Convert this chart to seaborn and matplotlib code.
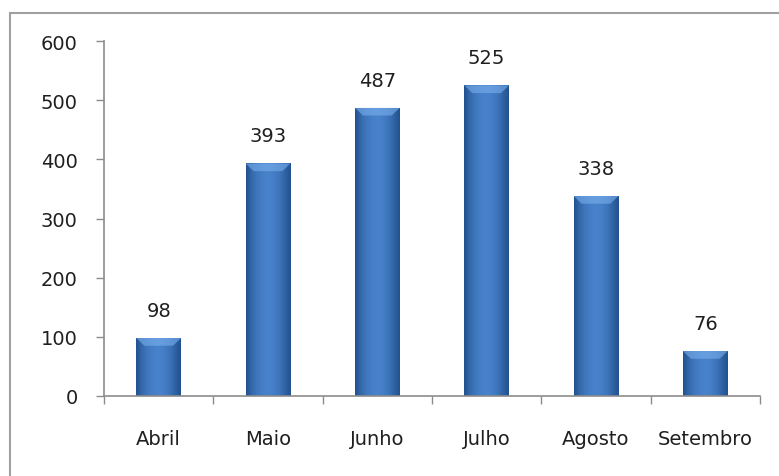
import numpy as np
import pandas as pd
import matplotlib
matplotlib.use("Agg")
import matplotlib.pyplot as plt
import seaborn as sns
from matplotlib.patches import Rectangle
from matplotlib.colors import LinearSegmentedColormap

meses = ["Abril", "Maio", "Junho", "Julho", "Agosto", "Setembro"]
valores = [98, 393, 487, 525, 338, 76]
yticks = [0, 100, 200, 300, 400, 500, 600]

df = pd.DataFrame({"mes": meses, "valor": valores})

sns.set_theme(style="white")
plt.rcParams["font.family"] = ["DejaVu Sans"]

fig = plt.figure(figsize=(7.79, 4.77), dpi=100)
ax = fig.add_axes([104/779, 1-397/477, (760-104)/779, (397-42)/477])

sns.barplot(data=df, x="mes", y="valor", color="#3b74c0", width=0.41,
            saturation=1, ax=ax, edgecolor="none")

# gradient shading on bars
grad = np.array([0.0, 0.4, 0.65, 0.8, 0.85, 0.78, 0.6, 0.3, 0.0])
cmap = LinearSegmentedColormap.from_list("b", ["#22528f", "#4f8bd6"])
xs = np.linspace(0, 1, 60)
prof = np.interp(xs, np.linspace(0, 1, len(grad)), grad)
for p in ax.patches:
    x0, y0 = p.get_x(), p.get_y()
    w, h = p.get_width(), p.get_height()
    img = ax.imshow(prof[None, :], cmap=cmap, vmin=0, vmax=1, aspect="auto",
                    extent=[x0, x0 + w, y0, y0 + h], zorder=p.get_zorder() + 0.1,
                    interpolation="bicubic")
    img.set_clip_path(p)
    bev = 13
    ax.fill([x0, x0 + w, x0 + w - w*0.18, x0 + w*0.18],
            [h, h, h - bev, h - bev], color="#7ab0ee", alpha=0.6,
            zorder=p.get_zorder() + 0.2, lw=0)

for i, v in enumerate(valores):
    ax.annotate(str(v), (i, v), xytext=(0, 20), textcoords="offset points",
                ha="center", va="center", fontsize=14, color="#1f1f1f")

ax.set_xlim(-0.5, len(meses) - 0.5)
ax.set_ylim(0, 600)
ax.set_yticks(yticks)
ax.set_xlabel("")
ax.set_ylabel("")
ax.tick_params(axis="y", which="major", length=6, width=1, color="#8c8c8c",
               labelsize=14, labelcolor="#1f1f1f", left=True, pad=13)
ax.set_xticks(range(len(meses)))
ax.set_xticklabels(meses)
ax.set_xticks(np.arange(-0.5, len(meses), 1.0), minor=True)
ax.tick_params(axis="x", which="major", length=0, labelsize=14,
               labelcolor="#1f1f1f", pad=24)
ax.tick_params(axis="x", which="minor", length=6, width=1, color="#8c8c8c",
               bottom=True)
for s in ["top", "right"]:
    ax.spines[s].set_visible(False)
for s in ["left", "bottom"]:
    ax.spines[s].set_color("#8c8c8c")
    ax.spines[s].set_linewidth(1.2)

fig.patches.append(Rectangle((10/779, -0.2), 1.2, 1 - 14/477 + 0.2,
                             transform=fig.transFigure, fill=False,
                             edgecolor="#a0a0a0", lw=1.5, zorder=0))

fig.savefig("out.png", dpi=100)
